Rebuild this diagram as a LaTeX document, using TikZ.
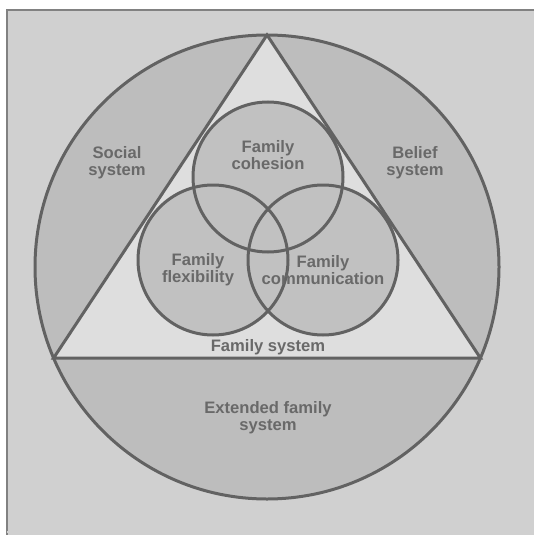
\documentclass[tikz,border=0pt]{standalone}
\usepackage{fontspec}
\setmainfont{Liberation Sans}
\usepackage{xcolor}
\usetikzlibrary{calc}
\definecolor{framegrey}{RGB}{208,208,208}
\definecolor{ringgrey}{RGB}{189,189,189}
\definecolor{trigrey}{RGB}{222,222,222}
\definecolor{spheregrey}{RGB}{193,193,193}
\definecolor{linegrey}{RGB}{98,98,98}
\definecolor{textgrey}{RGB}{105,105,105}

\begin{document}
\begin{tikzpicture}[x=0.5pt,y=-0.5pt,
    outline/.style={draw=linegrey,line width=1.5pt},
    lbl/.style={text=textgrey,align=center,font=\bfseries\fontsize{8.3}{8.6}\selectfont,inner sep=0pt}]
            \useasboundingbox (0,0) rectangle (534,535);
            \fill[white] (0,0) rectangle (534,535);
            \coordinate (FTL) at (7,10);
            \coordinate (FBR) at (534,535);
            \fill[framegrey] (FTL) rectangle (FBR);
            \draw[draw=linegrey!80,line width=1.2pt] (7,535) -- (FTL) -- (534,10);
            \draw[draw=linegrey!30,line width=0.8pt] (7,532) -- (534,532);
            % outer circle and triangle
            \coordinate (C) at (267,267);
            \coordinate (A) at (267,35);
            \coordinate (BL) at (53.6,358);
            \coordinate (BR) at (480.4,358);
            \fill[ringgrey] (C) circle [radius=232];
            \fill[trigrey] (A) -- (BL) -- (BR) -- cycle;
            % the three family circles
            \coordinate (Coh) at (268,177);
            \coordinate (Flex) at (213,260);
            \coordinate (Com) at (323,260);
            \foreach \c in {Coh,Flex,Com}
                \fill[spheregrey] (\c) circle [radius=75];
            \begin{scope}[outline]
                \draw (C) circle [radius=232];
                \draw (A) -- (BL) -- (BR) -- cycle;
                \foreach \c in {Coh,Flex,Com}
                    \draw (\c) circle [radius=75];
            \end{scope}
            % labels
            \node[lbl] (social) at (117,163) {Social\\system};
            \node[lbl] (belief) at (415,163) {Belief\\system};
            \node[lbl] (cohesion) at (268,155) {Family\\cohesion};
            \node[lbl] (flexibility) at (198,270) {Family\\flexibility};
            \node[lbl] (communication) at (323,270) {Family\\communication};
            \node[lbl] (famsys) at (268,347) {Family system};
            \node[lbl] (extended) at (268,418) {Extended family\\system};
        \end{tikzpicture}
\end{document}
